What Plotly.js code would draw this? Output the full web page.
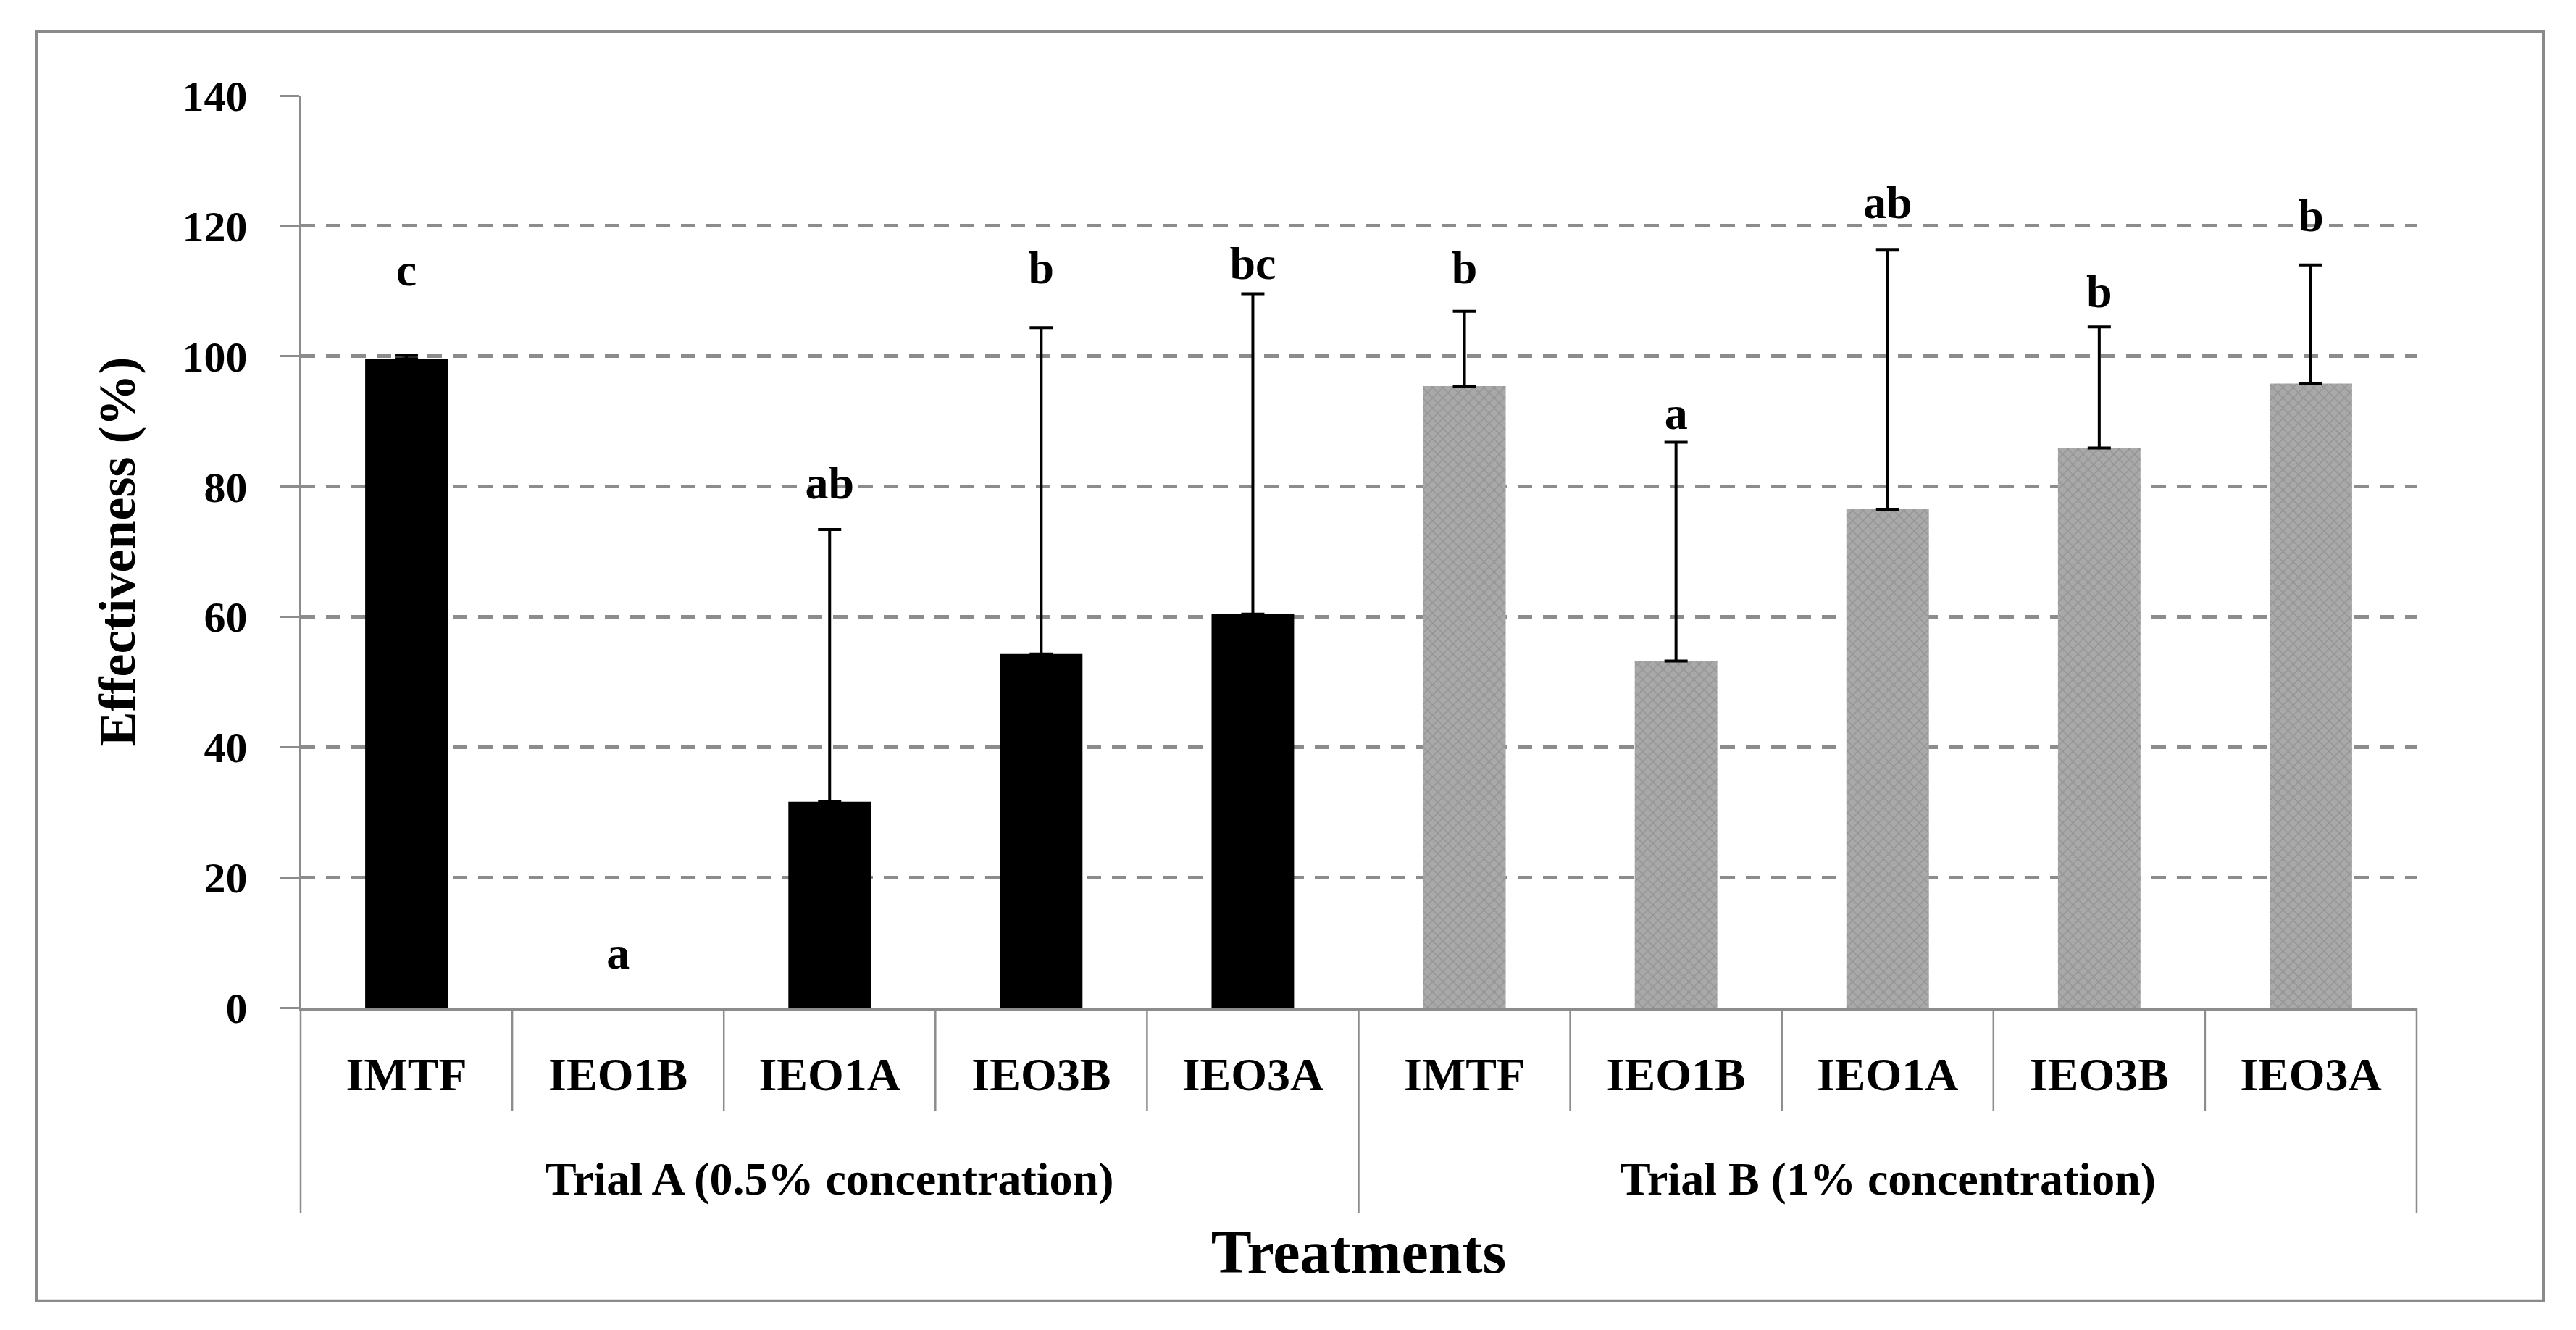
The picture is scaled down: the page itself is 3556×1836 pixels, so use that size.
<!DOCTYPE html>
<html><head><meta charset="utf-8">
<script src="https://cdn.plot.ly/plotly-3.0.1.min.js"></script>
<style>html,body{margin:0;padding:0;background:#fff}</style>
</head><body><div id="chart" style="width:3556px;height:1836px"></div>
<script>
// ---- data ----
const groups = ["Trial A (0.5% concentration)", "Trial B (1% concentration)"];
const treatments = ["IMTF", "IEO1B", "IEO1A", "IEO3B", "IEO3A"];
const trialA = [99.6, 0, 31.6, 54.3, 60.4];
const trialAErr = [0.5, null, 41.8, 50.1, 49.2];
const trialB = [95.4, 53.2, 76.5, 85.9, 95.8];
const trialBErr = [11.5, 33.6, 39.8, 18.6, 18.2];
const lettersA = ["c", "a", "ab", "b", "bc"];
const lettersB = ["b", "a", "ab", "b", "b"];
const letterYA = [112.7, 7.8, 80, 113, 113.7];
const letterYB = [113, 90.6, 123, 109.3, 121];
const yTicks = [0, 20, 40, 60, 80, 100, 120, 140];

// ---- layout helpers (pixel geometry of the figure) ----
const W = 3556, H = 1836;
const L = 415, R = 3336, T = 131.5, B = 1391;
const px2x = p => (p - L) / (R - L);
const py2y = p => (B - p) / (B - T);

const nT = treatments.length;
const posA = treatments.map((_, i) => i);
const posB = treatments.map((_, i) => i + nT);
const allPos = posA.concat(posB);
const allLabels = treatments.concat(treatments);
const nCat = allPos.length;

const FONT = "Liberation Serif, Times New Roman, serif";
const GRAY = "#8c8c8c";
const errPlus = a => a.map(v => (v === null ? NaN : v));
const errMinus = a => a.map(v => (v === null ? NaN : 0));

const traces = [
  {
    type: "bar", x: posA, y: trialA, name: groups[0],
    marker: {color: "#000000", line: {width: 0}},
    error_y: {type: "data", array: errPlus(trialAErr), arrayminus: errMinus(trialAErr), symmetric: false,
              color: "#000", thickness: 4, width: 16},
    hoverinfo: "skip"
  },
  {
    type: "bar", x: posB, y: trialB, name: groups[1],
    marker: {color: "#a9a9a9", line: {width: 0},
             pattern: {shape: "x", size: 10, solidity: 0.25, fgcolor: "#8c8c8c", fgopacity: 0.8, fillmode: "overlay"}},
    error_y: {type: "data", array: errPlus(trialBErr), arrayminus: errMinus(trialBErr), symmetric: false,
              color: "#000", thickness: 4, width: 16},
    hoverinfo: "skip"
  },
  {
    type: "scatter", mode: "text",
    x: allPos, y: letterYA.concat(letterYB),
    text: lettersA.concat(lettersB),
    textposition: "middle center",
    textfont: {family: FONT, size: 64, color: "#000", weight: "bold"},
    cliponaxis: false, hoverinfo: "skip"
  }
];

const shapes = [];
// outer frame
shapes.push({type: "rect", xref: "paper", yref: "paper",
  x0: px2x(50), x1: px2x(3511), y0: py2y(1796), y1: py2y(43),
  line: {color: "#8a8a8a", width: 4}, fillcolor: "rgba(0,0,0,0)", layer: "below"});
// category and group separators below the axis
for (let i = 0; i <= nCat; i++) {
  const isGroup = (i % nT === 0);
  shapes.push({type: "line", xref: "paper", yref: "paper",
    x0: i / nCat, x1: i / nCat, y0: 0, y1: py2y(isGroup ? 1674 : 1534),
    line: {color: GRAY, width: 2.5}});
}

// group labels
const annotations = groups.map((g, k) => ({
  xref: "x", yref: "paper", x: (nT - 1) / 2 + k * nT, y: py2y(1628),
  text: g, showarrow: false, xanchor: "center", yanchor: "middle",
  font: {family: FONT, size: 64, color: "#000", weight: "bold"}
}));

const layout = {
  width: W, height: H,
  margin: {l: L, r: W - R, t: T, b: H - B, pad: 0},
  paper_bgcolor: "#fff", plot_bgcolor: "#fff",
  showlegend: false,
  barmode: "overlay", bargap: 0.61,
  font: {family: FONT, color: "#000"},
  xaxis: {
    range: [-0.5, nCat - 0.5], tickvals: allPos, ticktext: allLabels,
    ticks: "", ticklabelstandoff: 32,
    tickfont: {family: FONT, size: 64, color: "#000", weight: "bold"},
    showline: true, linecolor: GRAY, linewidth: 5, showgrid: false, zeroline: false,
    title: {text: "Treatments", font: {family: FONT, size: 84, color: "#000", weight: "bold"}, standoff: 182}
  },
  yaxis: {
    range: [0, 140], tickvals: yTicks, ticktext: yTicks.map(String),
    showgrid: true, gridcolor: GRAY, gridwidth: 5, griddash: "20px,15px",
    zeroline: false, showline: true, linecolor: GRAY, linewidth: 2.5,
    ticks: "outside", ticklen: 27, tickwidth: 3, tickcolor: GRAY,
    ticklabelstandoff: 32,
    tickfont: {family: FONT, size: 60, color: "#000", weight: "bold"},
    title: {text: "Effectiveness (%)", font: {family: FONT, size: 72, color: "#000", weight: "bold"}, standoff: 42}
  },
  annotations: annotations,
  shapes: shapes
};

Plotly.newPlot("chart", traces, layout, {staticPlot: true, displayModeBar: false});
</script>
</body></html>
